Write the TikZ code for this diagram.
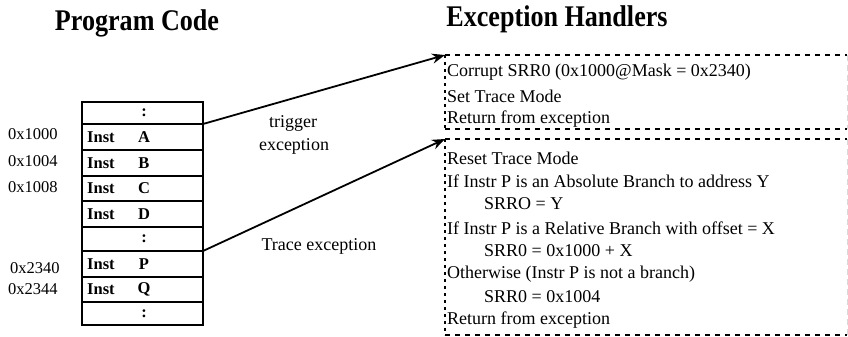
\documentclass[tikz,border=0pt]{standalone}
\usepackage{fontspec}
\setmainfont{Liberation Serif}
\usetikzlibrary{arrows.meta}
\newcommand{\titlefont}{\fontsize{30}{34}\selectfont\bfseries}
\newcommand{\bodyfont}{\fontsize{18}{22}\selectfont}
\newcommand{\addrfont}{\fontsize{16.5}{20}\selectfont}
\newcommand{\instfont}{\fontsize{16.5}{19}\selectfont\bfseries}
\tikzset{
  row/.style={draw, line width=2pt, minimum width=121pt, inner sep=0pt, outer sep=0pt},
  inst/.style={font=\instfont, anchor=west, inner sep=0pt},
  letter/.style={font=\instfont, inner sep=0pt},
  addr/.style={font=\addrfont, anchor=west, inner sep=0pt},
  body/.style={font=\bodyfont, anchor=west, inner sep=0pt},
  title/.style={font=\titlefont, xscale=0.87, inner sep=0pt},
  arr/.style={line width=1.8pt, -{Stealth[length=13pt, width=10pt]}},
  hbox/.style={inner sep=0pt, outer sep=0pt},
  hedge/.style={line width=2.4pt, dash pattern=on 5pt off 5pt},
  vedge/.style={line width=2.4pt, dash pattern=on 3pt off 4pt},
  redge/.style={line width=1pt, black!15, dash pattern=on 6pt off 4pt},
}
\begin{document}
\begin{tikzpicture}[x=1pt,y=-1pt]
\useasboundingbox (0,0) rectangle (848,337);
% titles
\node[title] (t1) at (137,23) {Program Code};
\node[title] (t2) at (557,19) {Exception Handlers};
% table rows
\node[row, minimum height=22pt] (r0) at (142.5,113) {};
\node[row, minimum height=26pt] (rA) at (142.5,137) {};
\node[row, minimum height=26pt] (rB) at (142.5,163) {};
\node[row, minimum height=25pt] (rC) at (142.5,188.5) {};
\node[row, minimum height=26pt] (rD) at (142.5,214) {};
\node[row, minimum height=24pt] (r1) at (142.5,239) {};
\node[row, minimum height=26pt] (rP) at (142.5,264) {};
\node[row, minimum height=25pt] (rQ) at (142.5,289.5) {};
\node[row, minimum height=23pt] (r2) at (142.5,313.5) {};
\foreach \r/\l in {rA/A,rB/B,rC/C,rD/D,rP/P,rQ/Q}{
  \node[inst] (i\r) at ([xshift=5pt]\r.west) {Inst};
  \node[letter] (l\r) at ([xshift=62pt]\r.west) {\l};
}
\node[letter] (c0) at ([xshift=62pt]r0.west) {:};
\node[letter] (c1) at ([xshift=62pt]r1.west) {:};
\node[letter] (c2) at ([xshift=62pt]r2.west) {:};
% addresses
\node[addr] (a1) at (8,134) {0x1000};
\node[addr] (a2) at (8,161) {0x1004};
\node[addr] (a3) at (8,187) {0x1008};
\node[addr] (a4) at (10,268) {0x2340};
\node[addr] (a5) at (8,289) {0x2344};
% handler boxes
\node[hbox, minimum width=402pt, minimum height=74pt] (h1) at (646,92) {};
\node[hbox, minimum width=402pt, minimum height=196pt] (h2) at (646,237) {};
\foreach \h in {h1,h2}{
  \draw[hedge] (\h.north west) -- (\h.north east);
  \draw[hedge] (\h.south west) -- (\h.south east);
  \draw[vedge] (\h.north west) -- (\h.south west);
  \draw[redge] (\h.north east) -- (\h.south east);
}
% handler 1 text
\node[body] (b11) at (447,72) {Corrupt SRR0 (0x1000@Mask = 0x2340)};
\node[body] (b12) at (447,96) {Set Trace Mode};
\node[body] (b13) at (447,119) {Return from exception};
% handler 2 text
\node[body] (b21) at (447,158) {Reset Trace Mode};
\node[body] (b22) at (447,181) {If Instr P is an Absolute Branch to address Y};
\node[body] (b23) at (484,204) {SRRO = Y};
\node[body] (b24) at (447,228) {If Instr P is a Relative Branch with offset = X};
\node[body] (b25) at (484,251) {SRR0 = 0x1000 + X};
\node[body] (b26) at (447,274) {Otherwise (Instr P is not a branch)};
\node[body] (b27) at (484,297) {SRR0 = 0x1004};
\node[body] (b28) at (447,320) {Return from exception};
% arrows
\draw[arr] (rA.north east) -- (h1.north west);
\draw[arr] (rP.north east) -- (h2.north west);
% arrow labels
\node[font=\bodyfont, inner sep=0pt] (lt1) at (293,123) {trigger};
\node[font=\bodyfont, inner sep=0pt] (lt2) at (294,146) {exception};
\node[font=\bodyfont, inner sep=0pt] (lt3) at (319,246) {Trace exception};
\end{tikzpicture}
\end{document}
